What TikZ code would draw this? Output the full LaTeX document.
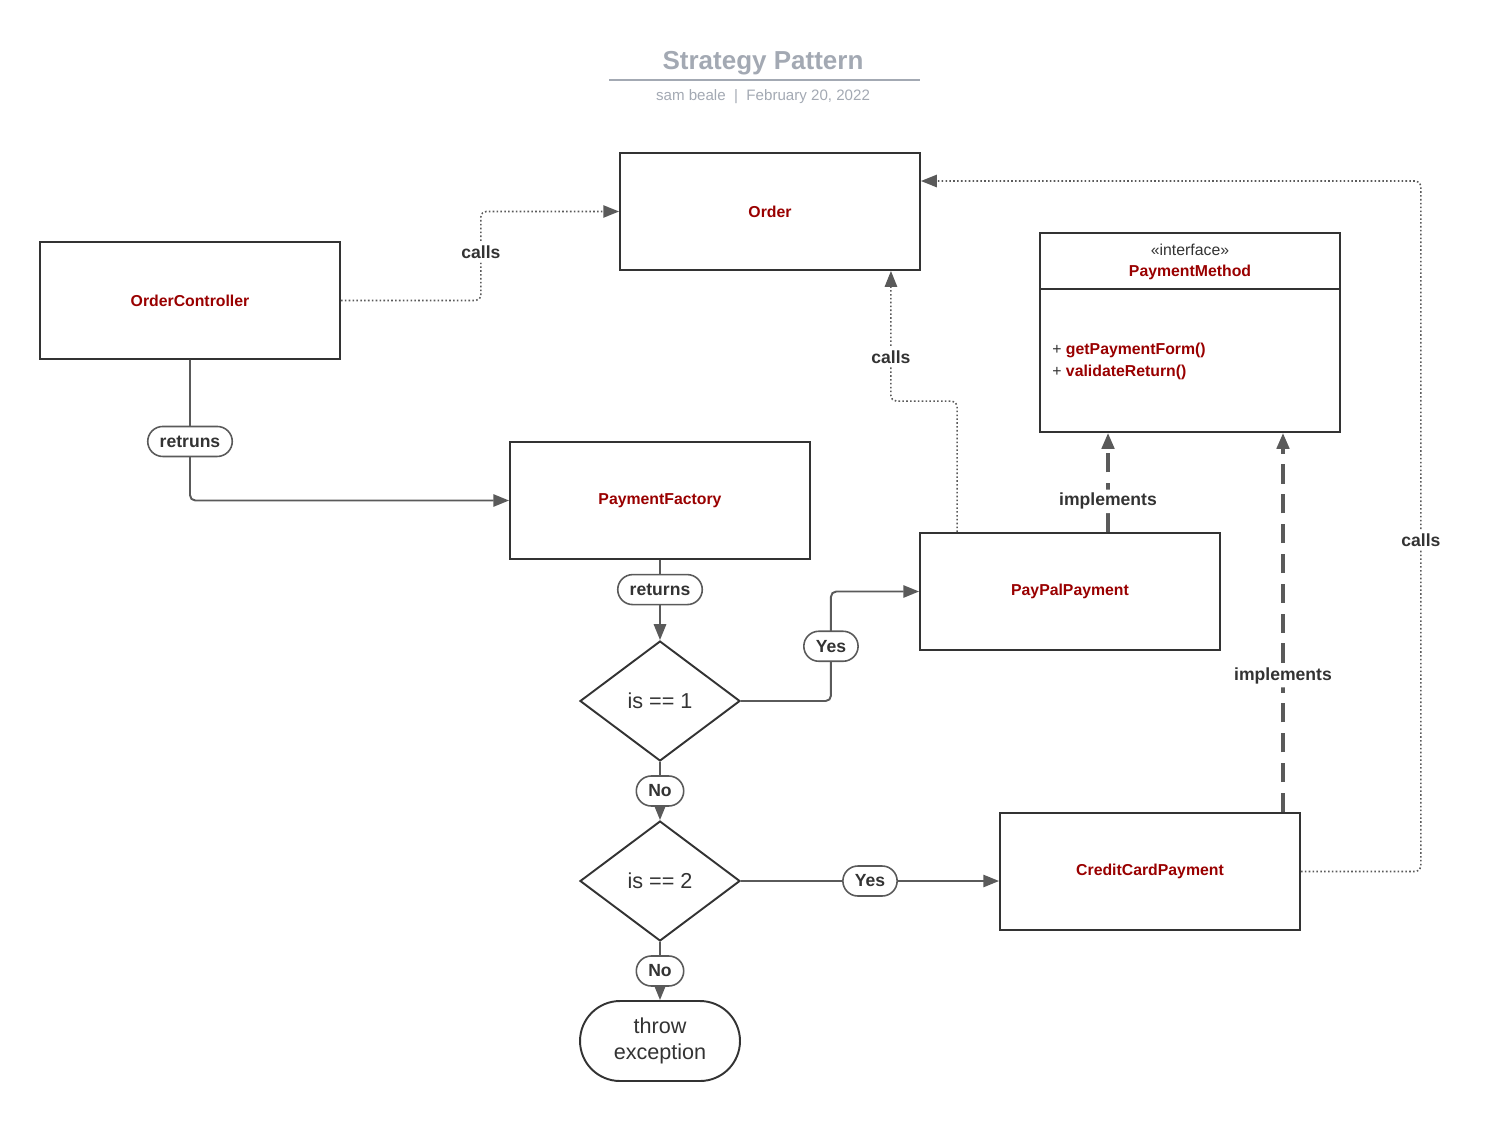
\documentclass[tikz,border=0pt]{standalone}
\usepackage{fontspec}
\setmainfont{Liberation Sans}
\usetikzlibrary{arrows.meta,shapes.geometric}
\definecolor{boxline}{HTML}{333333}
\definecolor{wire}{HTML}{5A5A5A}
\definecolor{classred}{HTML}{990000}
\definecolor{titlegray}{HTML}{A3A9B3}
\tikzset{
  class/.style={
    draw=boxline, line width=1.1pt,
    minimum width=6cm, minimum height=2.34cm, inner sep=0pt,
    text=classred, font=\fontsize{9}{11}\selectfont\bfseries
  },
  decision/.style={
    diamond, draw=boxline, line width=1.1pt,
    minimum width=3.2cm, minimum height=2.4cm, inner sep=0pt,
    text=boxline, font=\fontsize{12.3}{14}\selectfont
  },
  terminal/.style={
    draw=boxline, line width=1.1pt, rounded corners=0.8cm,
    minimum width=3.2cm, minimum height=1.6cm, align=center,
    text=boxline, font=\fontsize{12.3}{15}\selectfont
  },
  flow/.style={draw=wire, line width=1.1pt, rounded corners=3pt, -{Triangle[length=9pt,width=7pt]}},
  calls/.style={flow, line width=0.9pt, dash pattern=on 0.9pt off 1.3pt},
  realizes/.style={flow, line width=2pt, dash pattern=on 11pt off 6pt},
  pill/.style={
    draw=wire, line width=0.9pt, fill=white, rounded corners=0.3cm,
    minimum height=0.6cm, inner xsep=0.24cm, inner ysep=0pt,
    text=boxline, font=\fontsize{10}{12}\selectfont\bfseries
  },
  lbl/.style={fill=white, inner sep=2pt, text=boxline, font=\fontsize{10}{12}\selectfont\bfseries}
}
\begin{document}
\begin{tikzpicture}[x=0.02cm,y=-0.02cm]
  \useasboundingbox (0,0) rectangle (1497,1122);
  \node[text=titlegray, font=\fontsize{14.8}{17}\selectfont\bfseries] (title) at (763,63) {Strategy Pattern};
  \draw[titlegray, line width=1.1pt] (609,80) -- (920,80);
  \node[text=titlegray, font=\fontsize{8.6}{10}\selectfont] (byline) at (763,97) {sam beale\ \ |\ \ February 20, 2022};

  \node[class] (order) at (770,211.5) {Order};
  \node[class] (orderCtrl) at (190,300.5) {OrderController};
  \node[class] (payFactory) at (660,500.5) {PaymentFactory};
  \node[class] (payPal) at (1070,591.5) {PayPalPayment};
  \node[class] (creditCard) at (1150,871.5) {CreditCardPayment};
  \node[class, minimum height=3.98cm] (paymentMethod) at (1190,332.5) {};
  \draw[boxline, line width=1.1pt] ([yshift=-1.14cm]paymentMethod.north west) -- ([yshift=-1.14cm]paymentMethod.north east);
  \node[align=center, text=boxline, font=\fontsize{9}{12}\selectfont] (pmHead) at (1190,262)
    {«interface»\\ \textcolor{classred}{\bfseries PaymentMethod}};
  \node[anchor=west, align=left, inner sep=0pt, text=boxline, font=\fontsize{9}{12.5}\selectfont] (pmOps) at (1052,361)
    {+ \textcolor{classred}{\bfseries getPaymentForm()}\\ + \textcolor{classred}{\bfseries validateReturn()}};

  \node[decision] (dec1) at (660,701) {is == 1};
  \node[decision] (dec2) at (660,881) {is == 2};
  \node[terminal] (throwEx) at (660,1041) {throw\\ exception};

  \coordinate (impl1) at ([xshift=-1.64cm]paymentMethod.south);
  \coordinate (impl2) at ([xshift=1.86cm]paymentMethod.south);

  \draw[calls] (orderCtrl.east) -- ++(140,0) |- (order.west) node[pos=0.27, lbl] (callsA) {calls};
  \draw[flow] (orderCtrl.south) |- (payFactory.west) node[pos=0.29, pill] (retruns) {retruns};
  \draw[flow] (payFactory.south) -- (dec1.north) node[pos=0.37, pill] (returns) {returns};
  \draw[flow] (dec1.east) -- ++(90,0) |- (payPal.west) node[pos=0.25, pill] (yesA) {Yes};
  \draw[flow] (dec1.south) -- (dec2.north) node[midway, pill] (noA) {No};
  \draw[flow] (dec2.east) -- (dec2.east -| creditCard.west) node[midway, pill] (yesB) {Yes};
  \draw[flow] (dec2.south) -- (throwEx.north) node[midway, pill] (noB) {No};
  \draw[calls] ([xshift=0.76cm]payPal.north west) -- ++(0,-131) -| ([xshift=-0.6cm]order.south east) node[pos=0.67, lbl] (callsB) {calls};
  \draw[realizes] (impl1 |- payPal.north) -- (impl1) node[pos=0.31, lbl] (implA) {implements};
  \draw[realizes] (impl2 |- creditCard.north) -- (impl2) node[pos=0.36, lbl] (implB) {implements};
  \draw[calls] (creditCard.east) -- ++(120,0) |- ([yshift=0.61cm]order.east) node[pos=0.24, lbl] (callsC) {calls};
\end{tikzpicture}
\end{document}
